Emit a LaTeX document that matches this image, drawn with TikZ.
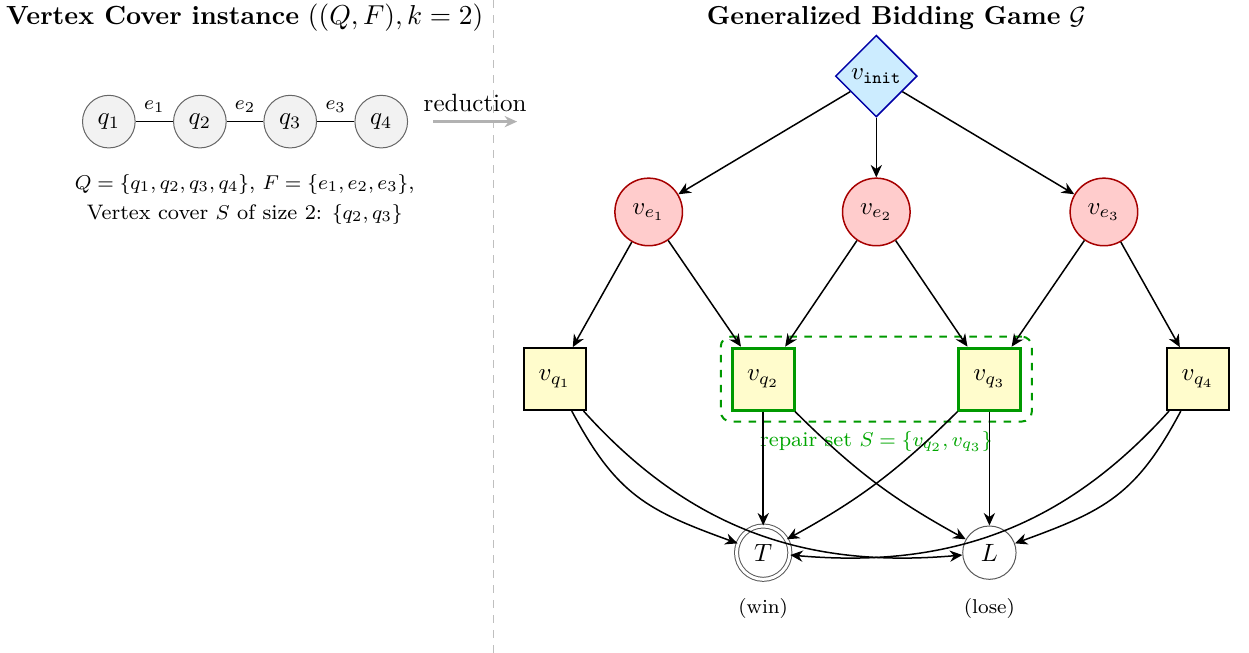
\documentclass[tikz,border=0pt]{standalone}
\usetikzlibrary{shapes.geometric,arrows.meta,fit}
\definecolor{initblue}{RGB}{204,236,255}
\begin{document}
\begin{tikzpicture}[>={Stealth[length=5pt,width=4.5pt]},
	vcnode/.style={circle,draw=black!60,fill=black!5,minimum size=0.74cm,inner sep=0pt},
	initnode/.style={diamond,aspect=1,draw=blue!65!black,fill=initblue,semithick,minimum size=1.15cm,inner sep=1pt},
	edgenode/.style={circle,draw=red!65!black,fill=red!20,semithick,minimum size=0.95cm,inner sep=0pt},
	vertnode/.style={rectangle,draw=black,fill=yellow!20,thick,minimum size=0.87cm,inner sep=0pt},
	picked/.style={draw=green!60!black,very thick},
	sinknode/.style={circle,draw=black!65,minimum size=0.75cm,inner sep=0pt},
	move/.style={->,semithick}]

	\useasboundingbox (0,0) rectangle (17.56,9.18);

	% Skillelinje
	\draw [dashed, gray!50] (6.945,0) -- (6.945,9.18);

	% Overskrifter
	\node [font=\fontsize{10.5}{12}\selectfont] (titleL) at (3.44,8.93) {\textbf{Vertex Cover instance} $((Q,F),k=2)$};
	\node [font=\fontsize{10.4}{12}\selectfont] (titleR) at (12.6,8.93) {\textbf{Generalized Bidding Game} $\mathcal{G}$};

	% Vertex cover graf
	\node [vcnode] (q1) at (1.53,7.47) {$q_1$};
	\node [vcnode] (q2) at (2.81,7.47) {$q_2$};
	\node [vcnode] (q3) at (4.08,7.47) {$q_3$};
	\node [vcnode] (q4) at (5.36,7.47) {$q_4$};
	\draw [semithick] (q1) -- node [above] {\footnotesize $e_1$} (q2);
	\draw [semithick] (q2) -- node [above] {\footnotesize $e_2$} (q3);
	\draw [semithick] (q3) -- node [above] {\footnotesize $e_3$} (q4);
	\node [align=center, font=\fontsize{8.4}{12}\selectfont] (info) at (3.44,6.38) {$Q=\{q_1,q_2,q_3,q_4\}$, $F=\{e_1,e_2,e_3\}$,\\ Vertex cover $S$ of size 2: $\{q_2,q_3\}$};

	% Reduksjon
	\coordinate (redA) at (6.09,7.47);
	\coordinate (redB) at (7.27,7.47);
	\draw [->, gray!60, line width=1.4pt] (redA) -- node [above, black] {reduction} (redB);

	% Spillgraf
	\node [initnode] (vinit) at (12.32,8.11) {$v_{\mathtt{init}}$};
	\node [edgenode] (ve1) at (9.12,6.2) {$v_{e_1}$};
	\node [edgenode] (ve2) at (12.32,6.2) {$v_{e_2}$};
	\node [edgenode] (ve3) at (15.52,6.2) {$v_{e_3}$};
	\node [vertnode] (vq1) at (7.8,3.85) {$v_{q_1}$};
	\node [vertnode, picked] (vq2) at (10.73,3.85) {$v_{q_2}$};
	\node [vertnode, picked] (vq3) at (13.91,3.85) {$v_{q_3}$};
	\node [vertnode] (vq4) at (16.84,3.85) {$v_{q_4}$};
	\node [sinknode, double, double distance=1.2pt] (T) at (10.73,1.41) {$T$};
	\node [sinknode] (L) at (13.91,1.41) {$L$};
	\node [font=\footnotesize] (win) at (10.73,0.62) {(win)};
	\node [font=\footnotesize] (lose) at (13.91,0.62) {(lose)};

	% Reparasjonsmengde
	\node [draw=green!60!black, thick, dashed, rounded corners=4pt, inner sep=4pt, fit=(vq2)(vq3)] (repair) {};
	\node [below, font=\fontsize{8.4}{10}\selectfont, text=green!65!black] (repairlbl) at (repair.south) {repair set $S=\{v_{q_2},v_{q_3}\}$};

	% Trekk
	\draw [move] (vinit) -- (ve1);
	\draw [move] (vinit) -- (ve2);
	\draw [move] (vinit) -- (ve3);
	\draw [move] (ve1) -- (vq1);
	\draw [move] (ve1) -- (vq2);
	\draw [move] (ve2) -- (vq2);
	\draw [move] (ve2) -- (vq3);
	\draw [move] (ve3) -- (vq3);
	\draw [move] (ve3) -- (vq4);

	\draw [move] (vq1) to [out=-62, in=160, looseness=1.15] (T);
	\draw [move] (vq1) to [out=-48, in=185] (L);
	\draw [move] (vq2) -- (T);
	\draw [move] (vq2) to [bend right=8] (L);
	\draw [move] (vq3) to [bend left=8] (T);
	\draw [move] (vq3) -- (L);
	\draw [move] (vq4) to [out=-118, in=20, looseness=1.15] (L);
	\draw [move] (vq4) to [out=-132, in=-5] (T);

\end{tikzpicture}
\end{document}
